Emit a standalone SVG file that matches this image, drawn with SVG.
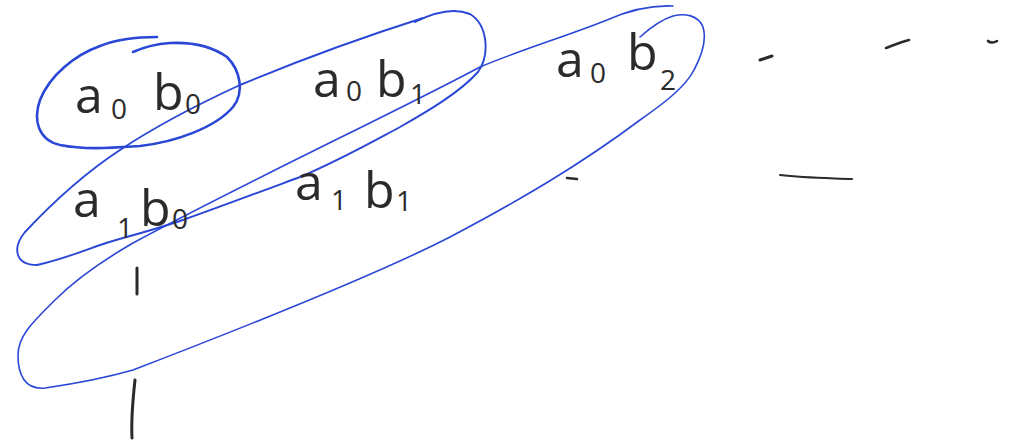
<svg xmlns="http://www.w3.org/2000/svg" width="1015" height="442" viewBox="0 0 1015 442">
<style>
.lbl{font-family:"Open Sans","DejaVu Sans",sans-serif;font-size:50px;fill:#2b2b2b}
.sub{font-size:28px}
.loop{fill:none;stroke:#2a47d6;stroke-linecap:round;stroke-linejoin:round}
.mark{fill:none;stroke:#2b2b2b;stroke-linecap:round}
</style>
<rect width="1015" height="442" fill="#ffffff"/>
<g id="connectors">
<path id="loop3" class="loop" stroke-width="1.6" d="M673,6 C650,5 625,12 607,20 C570,35 520,50 480,67 C400,110 250,180 133,243 C95,265 70,285 55,300 C35,320 18,335 18,355 C18,375 25,390 45,388 C80,383 105,378 133,370 C250,325 380,273 450,237 C520,200 580,165 640,120 C660,106 685,88 694,70 C702,55 707,40 703,27 C698,15 685,13 673,16 C660,20 650,28 640,37"/>
<path id="loop2" class="loop" stroke-width="1.9" d="M423,18 C360,38 300,60 240,85 C190,108 150,130 120,150 C85,173 55,200 25,232 C12,248 15,265 37,265 C70,258 95,245 123,238 C145,232 165,226 183,220 C225,205 265,190 300,177 C340,160 370,143 400,127 C430,110 460,92 478,72 C490,55 488,25 470,14 C455,8 435,12 415,22"/>
</g>
<g id="n-a0b0">
<path class="loop" stroke-width="2.6" d="M157,37 C135,37 115,40 100,46 C75,55 50,75 40,100 C33,120 38,140 60,145 C85,150 110,148 140,146 C175,142 215,128 233,107 C245,92 240,70 227,57 C210,45 190,42 170,43 C155,44 142,48 133,52"/>
<text class="lbl" x="75" y="113">a<tspan class="sub" x="111" y="119">0</tspan><tspan x="153" y="110">b</tspan><tspan class="sub" x="185" y="114">0</tspan></text>
</g>
<g id="n-a0b1">
<text class="lbl" x="313" y="97">a<tspan class="sub" x="346" y="101">0</tspan><tspan x="376" y="97">b</tspan><tspan class="sub" x="410" y="104">1</tspan></text>
</g>
<g id="n-a0b2">
<text class="lbl" x="556" y="77">a<tspan class="sub" x="590" y="83">0</tspan><tspan x="627" y="70">b</tspan><tspan class="sub" x="660" y="90">2</tspan></text>
</g>
<g id="n-a1b0">
<text class="lbl" x="73" y="217">a<tspan class="sub" x="117" y="238">1</tspan><tspan x="140" y="226">b</tspan><tspan class="sub" x="172" y="229">0</tspan></text>
</g>
<g id="n-a1b1">
<text class="lbl" x="295" y="200">a<tspan class="sub" x="331" y="210">1</tspan><tspan x="364" y="208">b</tspan><tspan class="sub" x="396" y="211">1</tspan></text>
</g>
<g id="marks">
<path class="mark" stroke-width="3" d="M137,268 L137,294"/>
<path class="mark" stroke-width="3" d="M135,380 C133,398 131,418 132,438"/>
<path class="mark" stroke-width="3" d="M760,60 L772,56"/>
<path class="mark" stroke-width="2.6" d="M886,48 C894,45 901,42 909,40"/>
<path class="mark" stroke-width="2.6" d="M988,41 C990,43 994,43 997,41"/>
<path class="mark" stroke-width="2.6" d="M567,178 L577,179"/>
<path class="mark" stroke-width="2" d="M780,175 C805,178 828,178 852,179"/>
</g>
</svg>
